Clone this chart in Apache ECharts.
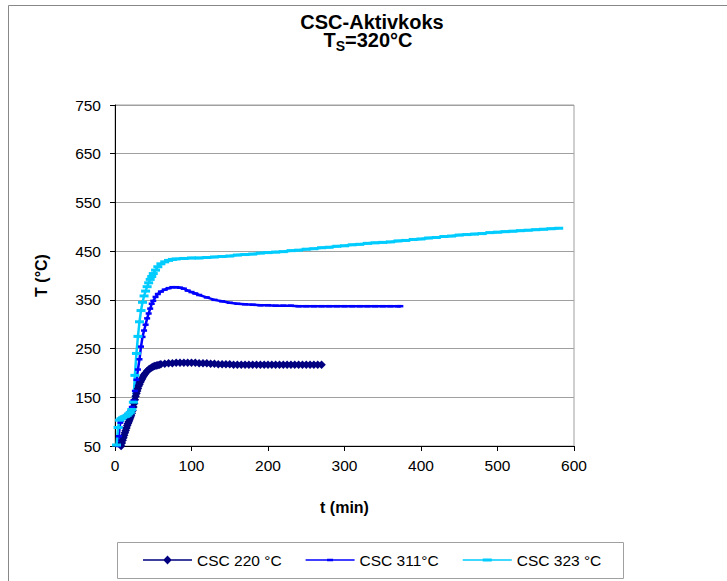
<!DOCTYPE html>
<html><head><meta charset="utf-8">
<script src="https://cdn.jsdelivr.net/npm/echarts@6/dist/echarts.min.js"></script>
<style>html,body{margin:0;padding:0;background:#fff}#c{width:727px;height:581px}</style>
</head><body><div id="c"></div>
<script>
const xTicks = [0, 100, 200, 300, 400, 500, 600];
const yTicks = [50, 150, 250, 350, 450, 550, 650, 750];
const seriesNames = ['CSC 220 °C', 'CSC 311°C', 'CSC 323 °C'];

const t220 = [8,9,10,11,12,13,14,15,16,17,18,19,20,21,22,23,24,25,26,27,28,29,30,31,32,33,34,35,36,37,38,39,40,
  42,44,46,48,50,52,54,56,58,60,
  65,70,75,80,85,90,95,100,105,110,115,120,125,130,135,140,145,150,155,160,165,170,175,180,185,190,195,200,205,210,215,220,225,230,235,240,245,250,255,260,265,270];
const T220 = [50,56,62,67,72,77,82,87,92,96,100,104,108,112,117,123,130,137,145,152,158,163,168,173,177,181,184,187,190,193,196,198,200,
  204,207,209,211,213,214,215,216,217,218,
  219,220,220,221,221,221,221,221,221,220,220,220,219,219,218,218,218,218,217,217,217,217,217,217,217,217,217,217,217,217,217,217,217,217,217,217,217,217,217,217,217,217];

const t311 = [4,5,6,7,8,10,12,14,16,18,20,22,24,26,28,30,32,34,36,38,40,42,44,46,48,50,53,56,
  60,65,70,75,80,85,90,95,100,105,110,
  120,130,140,150,160,170,180,190,200,210,220,230,240,250,260,270,280,290,300,310,320,330,340,350,360,370,373];
const T311 = [50,70,88,98,102,106,109,112,115,118,122,130,143,163,186,207,228,254,274,287,299,312,322,332,342,348,356,362,
  367,371,374,376,376,375,373,369,366,363,360,
  355,350,347,344,342,341,340,339,339,338,338,338,337,337,337,337,337,337,337,337,337,337,337,337,337,337,337];

const t323 = [2,4,6,8,10,12,14,16,18,20,22,24,26,28,30,32,34,36,38,40,42,44,46,48,50,53,56,60,65,70,75,80,90,100,
  110,120,130,140,150,160,170,180,190,200,210,220,230,240,250,260,270,280,290,300,310,320,330,340,350,360,370,380,390,400,
  410,420,430,440,450,460,470,480,490,500,510,520,530,540,550,560,570,580];
const T323 = [52,88,103,106,108,110,111,113,116,119,125,140,195,240,275,305,328,345,358,368,377,385,392,398,404,411,418,424,428,431,433,434,435,436,
  436,437,438,439,440,442,443,444,446,447,448,449,451,452,454,455,457,458,460,461,463,464,466,467,468,469,471,472,474,475,
  477,478,480,481,483,484,485,486,488,489,490,491,492,493,494,495,496,497];

const FF = "'Liberation Sans', Arial, Helvetica, sans-serif";
const pairs = (a, b) => a.map((v, i) => [v, b[i]]);

const chart = echarts.init(document.getElementById('c'), null, {renderer: 'svg'});
chart.setOption({
  animation: false,
  backgroundColor: '#fff',
  textStyle: {fontFamily: FF},
  grid: {left: 115, top: 105, width: 459, height: 341, show: true, borderColor: '#a0a0a0', borderWidth: 1, containLabel: false, outerBoundsMode: 'none'},
  xAxis: {
    type: 'value', min: xTicks[0], max: xTicks[xTicks.length - 1], interval: 100,
    axisLine: {show: true, onZero: false, lineStyle: {color: '#000', width: 1}},
    axisTick: {show: true, length: 5, lineStyle: {color: '#000'}},
    axisLabel: {margin: 11, fontSize: 15.5, color: '#000', fontFamily: FF},
    splitLine: {show: false},
    name: 't (min)', nameLocation: 'middle', nameGap: 53,
    nameTextStyle: {fontWeight: 'bold', fontSize: 16, color: '#000', fontFamily: FF}
  },
  yAxis: {
    type: 'value', min: yTicks[0], max: yTicks[yTicks.length - 1],
    axisLine: {show: true, onZero: false, lineStyle: {color: '#000', width: 1}},
    axisTick: {show: true, length: 5, lineStyle: {color: '#000'}, customValues: yTicks},
    axisLabel: {margin: 14, fontSize: 15.5, color: '#000', fontFamily: FF, customValues: yTicks},
    splitLine: {show: true, lineStyle: {color: '#a0a0a0', width: 1}},
    name: 'T (°C)', nameLocation: 'middle', nameGap: 66, nameRotate: 90,
    nameTextStyle: {fontWeight: 'bold', fontSize: 16, color: '#000', fontFamily: FF}
  },
  legend: {
    left: 143, top: 552, padding: 0, itemWidth: 49, itemHeight: 10, itemGap: 24, symbolKeepAspect: true,
    textStyle: {fontSize: 15.5, color: '#000', fontFamily: FF},
    itemStyle: {borderWidth: 0},
    data: [
      {name: seriesNames[0], icon: 'path://M0,4.25H49V5.75H0Z M24.5,0.5L28.8,5L24.5,9.5L20.2,5Z'},
      {name: seriesNames[1], icon: 'path://M0,4.25H49V5.75H0Z M21.5,3.75H27.5V6.25H21.5Z'},
      {name: seriesNames[2], icon: 'path://M0,4.25H49V5.75H0Z M20,3.5H29V6.5H20Z'}
    ]
  },
  graphic: [
    {type: 'rect', silent: true, z: 0, shape: {x: 8.5, y: 5.5, width: 800, height: 700}, style: {fill: 'none', stroke: '#888', lineWidth: 1}},
    {type: 'rect', silent: true, z: 0, shape: {x: 117.5, y: 542.5, width: 506, height: 36}, style: {fill: 'none', stroke: '#a0a0a0', lineWidth: 1}},
    {type: 'text', silent: true, z: 10, style: {text: 'CSC-Aktivkoks', x: 372, y: 21.5, align: 'center', verticalAlign: 'middle', fontSize: 20, lineHeight: 16, fontWeight: 'bold', fontFamily: FF, fill: '#000'}},
    {type: 'text', silent: true, z: 10, style: {
      text: '{b|T}{s|S}{b|=320°C}', x: 368, y: 44, align: 'center', verticalAlign: 'middle', fontFamily: FF, fill: '#000',
      rich: {
        b: {fontSize: 20, lineHeight: 18, fontWeight: 'bold', fontFamily: FF, color: '#000', verticalAlign: 'bottom', padding: [0, 0, 3, 0]},
        s: {fontSize: 14, lineHeight: 14, fontWeight: 'bold', fontFamily: FF, color: '#000', verticalAlign: 'bottom'}
      }
    }}
  ],
  series: [
    {name: seriesNames[0], type: 'line', data: pairs(t220, T220), symbol: 'diamond', symbolSize: 8.5,
     lineStyle: {color: '#000080', width: 4}, itemStyle: {color: '#000080'}, emphasis: {disabled: true}},
    {name: seriesNames[1], type: 'line', data: pairs(t311, T311), symbol: 'rect', symbolSize: [6, 2.5],
     lineStyle: {color: '#0000ff', width: 2.5}, itemStyle: {color: '#0000ff'}, emphasis: {disabled: true}},
    {name: seriesNames[2], type: 'line', data: pairs(t323, T323), symbol: 'rect', symbolSize: [9, 3],
     lineStyle: {color: '#00ccff', width: 2.5}, itemStyle: {color: '#00ccff'}, emphasis: {disabled: true}}
  ]
});
</script></body></html>
